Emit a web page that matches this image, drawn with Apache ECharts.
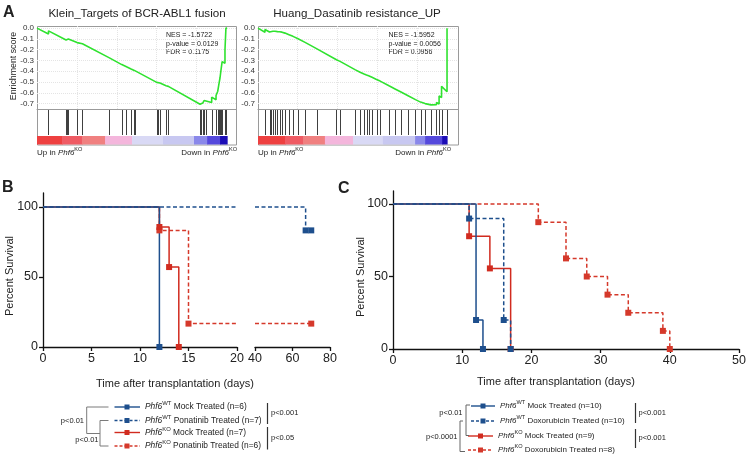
<!DOCTYPE html>
<html><head><meta charset="utf-8">
<script src="https://cdn.jsdelivr.net/npm/echarts@6/dist/echarts.min.js"></script>
<style>html,body{margin:0;padding:0;background:#fff}#c{width:750px;height:456px}</style>
</head><body><div id="c"></div>
<script>
// ===================== DATA =====================
// Panel A (GSEA) — rank position in % of ranked list, enrichment score
const gseaYTicks = [0, -0.1, -0.2, -0.3, -0.4, -0.5, -0.6, -0.7];
const gseaXGrid = [21, 42, 63, 84];

const kleinTitle = 'Klein_Targets of BCR-ABL1 fusion';
const kleinStats = ['NES = -1.5722', 'p-value = 0.0129', 'FDR = 0.1175'];
const kleinRank = [0,
  6.05, 6.05, 15.3, 15.3, 15.8, 15.8, 16.5, 16.5, 21.1, 21.1, 23.9, 23.9,
  38.1, 38.1, 44.6, 44.6, 46.8, 46.8, 49.5, 49.5, 51.2, 51.2, 51.7, 51.7,
  63.0, 63.0, 63.8, 63.8, 64.7, 64.7, 67.9, 67.9, 69.1, 69.1,
  85.8, 85.8, 86.5, 86.5, 87.2, 87.2, 87.9, 87.9, 88.9, 88.9, 91.9, 91.9,
  94.2, 94.2, 95.1, 95.1, 95.6, 95.6, 96.3, 96.3, 96.8, 96.8, 97.4, 97.4,
  98.9, 98.9, 99.4, 99.4, 100];
const kleinES = [0,
  -0.055, -0.025, -0.110, -0.100, -0.105, -0.095, -0.101, -0.092, -0.134, -0.122, -0.145, -0.130,
  -0.276, -0.271, -0.338, -0.333, -0.356, -0.351, -0.379, -0.374, -0.392, -0.387, -0.392, -0.387,
  -0.503, -0.497, -0.505, -0.499, -0.508, -0.502, -0.535, -0.528, -0.540, -0.534,
  -0.706, -0.695, -0.702, -0.688, -0.695, -0.680, -0.687, -0.672, -0.683, -0.660, -0.690, -0.640,
  -0.664, -0.625, -0.634, -0.585, -0.590, -0.530, -0.537, -0.460, -0.465, -0.390, -0.396, -0.310,
  -0.325, -0.200, -0.205, 0.0, 0.0];
const kleinHits = [6.05, 15.3, 15.8, 16.5, 21.1, 23.9, 38.1, 44.6, 46.8, 49.5, 51.2, 51.7,
  63.0, 63.8, 64.7, 67.9, 69.1, 85.8, 86.5, 87.2, 87.9, 88.9, 91.9, 94.2, 95.1, 95.6,
  96.3, 96.8, 97.4, 98.9, 99.4];
const kleinBarStops = [0, 13.2, 23.7, 35.8, 50, 66.3, 82.6, 89.5, 96.3, 100];
const kleinBarColors = ['#ee4040', '#ef5b64', '#f08080', '#f4b6dc', '#d9d9f5', '#c8c8f1', '#8a88ea', '#5549dc', '#1c0db6'];

const huangTitle = 'Huang_Dasatinib resistance_UP';
const huangStats = ['NES = -1.5952', 'p-value = 0.0056', 'FDR = 0.0956'];
const huangRank = [0,
  3.7, 3.7, 6.1, 6.1, 7.1, 7.1, 7.9, 7.9, 9.0, 9.0, 10.3, 10.3, 11.4, 11.4, 12.7, 12.7,
  14.3, 14.3, 16.4, 16.4, 18.5, 18.5, 21.2, 21.2, 24.9, 24.9, 31.2, 31.2, 41.5, 41.5,
  43.4, 43.4, 51.3, 51.3, 54.0, 54.0, 56.1, 56.1, 57.4, 57.4, 58.5, 58.5, 60.3, 60.3,
  62.7, 62.7, 64.6, 64.6, 69.3, 69.3, 72.5, 72.5, 75.9, 75.9, 79.4, 79.4, 83.3, 83.3,
  86.0, 86.0, 88.4, 88.4, 91.5, 91.5, 94.4, 94.4, 95.8, 95.8, 97.1, 97.1, 100, 100];
const huangES = [0,
  -0.038, -0.012, -0.036, -0.022, -0.032, -0.020, -0.028, -0.018, -0.029, -0.019, -0.032, -0.022, -0.033, -0.024, -0.037, -0.030,
  -0.046, -0.040, -0.061, -0.055, -0.076, -0.071, -0.099, -0.094, -0.132, -0.128, -0.192, -0.188, -0.293, -0.289,
  -0.308, -0.304, -0.385, -0.381, -0.409, -0.405, -0.426, -0.422, -0.435, -0.431, -0.442, -0.438, -0.456, -0.452,
  -0.476, -0.472, -0.491, -0.487, -0.535, -0.531, -0.564, -0.560, -0.595, -0.591, -0.627, -0.623, -0.663, -0.658,
  -0.686, -0.680, -0.700, -0.690, -0.712, -0.698, -0.711, -0.690, -0.704, -0.630, -0.643, -0.540, -0.590, 0.0];
const huangHits = [3.7, 6.1, 7.1, 7.9, 9.0, 10.3, 11.4, 12.7, 14.3, 16.4, 18.5, 21.2, 24.9, 31.2,
  41.5, 43.4, 51.3, 54.0, 56.1, 57.4, 58.5, 60.3, 62.7, 64.6, 69.3, 72.5, 75.9, 79.4, 83.3,
  86.0, 88.4, 91.5, 94.4, 95.8, 97.1, 100];
const huangBarStops = [0, 14.3, 23.8, 35.4, 50.3, 66.1, 83.1, 88.4, 97.4, 100];
const huangBarColors = ['#ee4040', '#ef5b64', '#f08080', '#f4b6dc', '#d9d9f5', '#c8c8f1', '#8a88ea', '#5549dc', '#1c0db6'];

// Panel B — Kaplan-Meier (time in days, percent survival)
const bWtMockT = [0, 12];             const bWtMockS = [100, 0];
const bWtPonaT = [0, 67, 70];         const bWtPonaS = [100, 83.3, 83.3];
const bKoMockT = [0, 12, 13, 14];     const bKoMockS = [100, 85.7, 57.1, 0];
const bKoPonaT = [0, 12, 15, 70];     const bKoPonaS = [100, 83.3, 16.7, 16.7];
const survTicks = [0, 50, 100];
const bSup = ['WT', 'WT', 'KO', 'KO'];
const bLabels = [' Mock Treated (n=6)', ' Ponatinib Treated (n=7)', ' Mock Treated (n=7)', ' Ponatinib Treated (n=6)'];
const bPLeft = ['p<0.01', 'p<0.01'];
const bPRight = ['p<0.001', 'p<0.05'];

// Panel C
const cWtMockT = [0, 12, 13];         const cWtMockS = [100, 20, 0];
const cWtDoxT = [0, 11, 16, 17];      const cWtDoxS = [100, 90, 20, 0];
const cKoMockT = [0, 11, 14, 17];     const cKoMockS = [100, 77.8, 55.6, 0];
const cKoDoxT = [0, 21, 25, 28, 31, 34, 39, 40];
const cKoDoxS = [100, 87.5, 62.5, 50, 37.5, 25, 12.5, 0];
const cSup = ['WT', 'WT', 'KO', 'KO'];
const cLabels = [' Mock Treated (n=10)', ' Doxorubicin Treated (n=10)', ' Mock Treated (n=9)', ' Doxorubicin Treated n=8)'];
const cPLeft = ['p<0.01', 'p<0.0001'];
const cPRight = ['p<0.001', 'p<0.001'];

const xTitle = 'Time after transplantation (days)';
const yTitle = 'Percent Survival';

// ===================== CHART =====================
const FF = '"Liberation Sans", Arial, sans-serif';
const BLUE = '#1e4f8d', RED = '#d12b1f', RED2 = '#d5392b';
const GREEN = '#2fe22f';
const chart = echarts.init(document.getElementById('c'), null, {renderer: 'canvas', width: 750, height: 456});

function zip(a, b) { return a.map((v, i) => [v, b[i]]); }

function hitRender(params, api) {
  const x = api.value(0);
  const a = api.coord([x, 0]), b = api.coord([x, 1]);
  const px = Math.round(a[0]) + 0.5;
  return {type: 'line', shape: {x1: px, y1: a[1], x2: px, y2: b[1]}, style: {stroke: '#404040', lineWidth: 1}};
}
function barRender(colors) {
  return function (params, api) {
    const a = api.coord([api.value(0), 0]), b = api.coord([api.value(1), 1]);
    return {type: 'rect', shape: {x: a[0], y: b[1], width: b[0] - a[0] + 0.6, height: a[1] - b[1]},
      style: {fill: colors[params.dataIndex]}};
  };
}
function stopsToSegs(stops) { return stops.slice(0, -1).map((s, i) => [s, stops[i + 1]]); }

function kmPart(T, S, lo, hi) {
  const survAt = t => { let s = S[0]; for (let i = 0; i < T.length; i++) if (T[i] <= t) s = S[i]; return s; };
  const out = [];
  if (T[T.length - 1] < lo) return out;
  if (lo > T[0]) out.push({value: [lo, survAt(lo)], symbol: 'none'});
  for (let i = 0; i < T.length; i++) {
    if (T[i] >= lo && T[i] <= hi) out.push(i === 0 ? {value: [T[i], S[i]], symbol: 'none'} : {value: [T[i], S[i]]});
  }
  if (T[T.length - 1] > hi) out.push({value: [hi, survAt(hi)], symbol: 'none'});
  return out;
}
function km(T, S, color, dashed, axis, lo, hi) {
  return {type: 'line', step: 'end', xAxisIndex: axis, yAxisIndex: axis, data: kmPart(T, S, lo, hi),
    symbol: 'rect', symbolSize: 6, showSymbol: true, showAllSymbol: true, clip: false,
    itemStyle: {color: color}, lineStyle: {color: color, width: 1.5, type: dashed ? [4, 2.5] : 'solid'},
    emphasis: {disabled: true}, animation: false};
}

// grids
const gseaDefs = [
  {left: 37, width: 199, xmax: 104.7},
  {left: 258, width: 200, xmax: 105.8}
];
const grids = [], xAxes = [], yAxes = [];
gseaDefs.forEach(g => {
  grids.push({left: g.left, top: 26, width: g.width, height: 83});
  grids.push({left: g.left, top: 110, width: g.width, height: 25});
  grids.push({left: g.left, top: 136, width: g.width, height: 8.5});
});
grids.push({left: 43, top: 193, width: 194, height: 154});
grids.push({left: 255, top: 193, width: 75, height: 154});
grids.push({left: 393, top: 191, width: 346, height: 158});

gseaDefs.forEach((g, k) => {
  const gi = k * 3;
  xAxes.push({gridIndex: gi, type: 'value', min: 0, max: g.xmax, axisLine: {show: true, onZero: false, lineStyle: {color: '#9a9a9a', width: 1}},
    axisTick: {show: false}, axisLabel: {show: false}, splitLine: {show: false}});
  yAxes.push({gridIndex: gi, type: 'value', min: -0.75, max: 0.02, axisLine: {show: false}, axisTick: {show: false}, splitLine: {show: false},
    axisLabel: {customValues: gseaYTicks, formatter: v => v.toFixed(1), fontSize: 8, margin: 3, color: '#333', fontFamily: FF}});
  for (let j = 1; j < 3; j++) {
    xAxes.push({gridIndex: gi + j, type: 'value', min: 0, max: g.xmax, show: false});
    yAxes.push({gridIndex: gi + j, type: 'value', min: 0, max: 1, show: false});
  }
});
const axLine = {show: true, onZero: false, lineStyle: {color: '#111', width: 1.3}};
const axTick = {show: true, length: 4, lineStyle: {color: '#111', width: 1.3}};
const axLab = {fontSize: 12.5, color: '#222', margin: 5, fontFamily: FF};
xAxes.push({gridIndex: 6, type: 'value', min: 0, max: 20, interval: 5, axisLine: axLine, axisTick: axTick, axisLabel: axLab, splitLine: {show: false}});
xAxes.push({gridIndex: 7, type: 'value', min: 40, max: 80, interval: 20, axisLine: axLine, axisTick: axTick, axisLabel: axLab, splitLine: {show: false}});
xAxes.push({gridIndex: 8, type: 'value', min: 0, max: 50, interval: 10, axisLine: axLine, axisTick: axTick, axisLabel: axLab, splitLine: {show: false}});
yAxes.push({gridIndex: 6, type: 'value', min: 0, max: 110, axisLine: axLine, axisTick: Object.assign({customValues: survTicks}, axTick),
  axisLabel: Object.assign({customValues: survTicks}, axLab), splitLine: {show: false}});
yAxes.push({gridIndex: 7, type: 'value', min: 0, max: 110, show: false});
yAxes.push({gridIndex: 8, type: 'value', min: 0, max: 109, axisLine: axLine, axisTick: Object.assign({customValues: survTicks}, axTick),
  axisLabel: Object.assign({customValues: survTicks}, axLab), splitLine: {show: false}});

// series
const series = [];
const gseaData = [
  {rank: kleinRank, es: kleinES, hits: kleinHits, stops: kleinBarStops, colors: kleinBarColors},
  {rank: huangRank, es: huangES, hits: huangHits, stops: huangBarStops, colors: huangBarColors}
];
gseaData.forEach((d, k) => {
  const gi = k * 3;
  series.push({type: 'line', xAxisIndex: gi, yAxisIndex: gi, data: zip(d.rank, d.es), symbol: 'none',
    lineStyle: {color: GREEN, width: 1.6}, animation: false, silent: true, z: 5,
    markLine: {silent: true, symbol: 'none', label: {show: false}, animation: false,
      lineStyle: {color: '#e4e4e4', type: 'dotted', width: 1},
      data: gseaYTicks.map(v => ({yAxis: v})).concat(gseaXGrid.map(v => ({xAxis: v})))}});
  series.push({type: 'custom', xAxisIndex: gi + 1, yAxisIndex: gi + 1, data: d.hits.map(h => [h, 0]),
    renderItem: hitRender, silent: true, animation: false});
  series.push({type: 'custom', xAxisIndex: gi + 2, yAxisIndex: gi + 2, data: stopsToSegs(d.stops),
    renderItem: barRender(d.colors), silent: true, animation: false});
});
// Panel B (red first, blue on top)
[[6, 0, 20], [7, 40, 80]].forEach(([ax, lo, hi]) => {
  series.push(km(bKoPonaT, bKoPonaS, RED2, true, ax, lo, hi));
  series.push(km(bKoMockT, bKoMockS, RED, false, ax, lo, hi));
  series.push(km(bWtPonaT, bWtPonaS, BLUE, true, ax, lo, hi));
  series.push(km(bWtMockT, bWtMockS, BLUE, false, ax, lo, hi));
});
// Panel C
series.push(km(cKoDoxT, cKoDoxS, RED2, true, 8, 0, 50));
series.push(km(cKoMockT, cKoMockS, RED, false, 8, 0, 50));
series.push(km(cWtDoxT, cWtDoxS, BLUE, true, 8, 0, 50));
series.push(km(cWtMockT, cWtMockS, BLUE, false, 8, 0, 50));

// ===================== GRAPHIC (titles, legends, annotations) =====================
const G = [];
function txt(x, y, text, font, align, opts) {
  const o = Object.assign({type: 'text', x: x, y: y, silent: true,
    style: {text: text, font: font, fill: '#222', textAlign: align || 'left', textVerticalAlign: 'middle'}}, opts || {});
  G.push(o);
}
function line(x1, y1, x2, y2, color, w, dash) {
  G.push({type: 'line', silent: true, shape: {x1, y1, x2, y2}, style: {stroke: color, lineWidth: w || 1, lineDash: dash || null}});
}
function poly(points, color, w) {
  G.push({type: 'polyline', silent: true, shape: {points}, style: {stroke: color, lineWidth: w || 1, fill: null}});
}
function richGene(x, y, sup, rest, size, align) {
  const supSize = Math.round(size * 0.7 * 10) / 10;
  G.push({type: 'text', x: x, y: y, silent: true, style: {
    text: '{n|' + (rest[0] || '') + '}{i|Phf6}{s|' + sup + '}{n|' + (rest[1] || '') + '}',
    fill: '#222', textAlign: align || 'left', textVerticalAlign: 'middle',
    rich: {
      n: {font: size + 'px ' + FF, fill: '#222'},
      i: {font: 'italic ' + size + 'px ' + FF, fill: '#222'},
      s: {font: supSize + 'px ' + FF, fill: '#222', padding: [0, 0, Math.round(size * 0.85), 0]}
    }}});
}

// Panel letters
txt(3, 12.5, 'A', 'bold 16px ' + FF);
txt(2, 187.5, 'B', 'bold 16px ' + FF);
txt(338, 188.5, 'C', 'bold 16px ' + FF);

// Panel A decorations
txt(137, 14, kleinTitle, '11.6px ' + FF, 'center');
txt(357, 14, huangTitle, '11.6px ' + FF, 'center');
txt(13.5, 66, 'Enrichment score', '8.8px ' + FF, 'center', {rotation: Math.PI / 2});
G.push({type: 'rect', silent: true, shape: {x: 37.5, y: 26.5, width: 199, height: 118.5}, style: {fill: null, stroke: '#9a9a9a', lineWidth: 1}});
G.push({type: 'rect', silent: true, shape: {x: 258.5, y: 26.5, width: 200, height: 118.5}, style: {fill: null, stroke: '#9a9a9a', lineWidth: 1}});
kleinStats.forEach((s, i) => txt(166, 35 + i * 8.6, s, '7px ' + FF));
huangStats.forEach((s, i) => txt(388.5, 35 + i * 8.6, s, '7px ' + FF));
richGene(37, 153, 'KO', ['Up in ', ''], 8);
richGene(237, 153, 'KO', ['Down in ', ''], 8, 'right');
richGene(258, 153, 'KO', ['Up in ', ''], 8);
richGene(451, 153, 'KO', ['Down in ', ''], 8, 'right');

// Axis titles B & C
txt(175, 384, xTitle, '11px ' + FF, 'center');
txt(556, 382, xTitle, '11px ' + FF, 'center');
txt(10, 276, yTitle, '11px ' + FF, 'center', {rotation: Math.PI / 2});
txt(361, 277, yTitle, '11px ' + FF, 'center', {rotation: Math.PI / 2});

// Legend B
const bRows = [407, 420.5, 432.5, 446];
const bStyle = [[BLUE, false], [BLUE, true], [RED, false], [RED2, true]];
bRows.forEach((y, i) => {
  const [c, d] = bStyle[i];
  line(114.5, y, 140, y, c, 1.4, d ? [3, 2] : null);
  G.push({type: 'rect', silent: true, shape: {x: 124.5, y: y - 2.5, width: 5, height: 5}, style: {fill: c}});
  richGene(145, y, bSup[i], ['', bLabels[i]], 8.4);
});
poly([[108.5, 407], [86.7, 407], [86.7, 433.5], [100, 433.5]], '#7a7a7a', 1);
poly([[108.5, 420.5], [100, 420.5], [100, 446], [108.5, 446]], '#7a7a7a', 1);
txt(84, 420.5, bPLeft[0], '7.5px ' + FF, 'right');
txt(98.5, 439.5, bPLeft[1], '7.5px ' + FF, 'right');
line(267.5, 403, 267.5, 424, '#333', 1.2);
line(267.5, 427, 267.5, 449.5, '#333', 1.2);
txt(271, 413, bPRight[0], '7.5px ' + FF);
txt(271, 437.5, bPRight[1], '7.5px ' + FF);

// Legend C
const cRows = [406, 421, 436, 450];
const cIconX = [[471, 495], [471, 495], [468, 493], [468, 493]];
const cTextX = [500, 500, 498, 498];
cRows.forEach((y, i) => {
  const [c, d] = bStyle[i];
  const [x0, x1] = cIconX[i];
  line(x0, y, x1, y, c, 1.4, d ? [3, 2] : null);
  G.push({type: 'rect', silent: true, shape: {x: (x0 + x1) / 2 - 2.5, y: y - 2.5, width: 5, height: 5}, style: {fill: c}});
  richGene(cTextX[i], y, cSup[i], ['', cLabels[i]], 8);
});
poly([[470, 405], [466, 405], [466, 435.5], [469, 435.5]], '#666', 1);
poly([[463, 421], [460, 421], [460, 451.5], [465, 451.5]], '#666', 1);
txt(462.5, 413, cPLeft[0], '7.5px ' + FF, 'right');
txt(457.5, 436.5, cPLeft[1], '7.5px ' + FF, 'right');
line(635.5, 403, 635.5, 423, '#333', 1.2);
line(635.5, 429, 635.5, 448, '#333', 1.2);
txt(638.5, 412.5, cPRight[0], '7.5px ' + FF);
txt(638.5, 438, cPRight[1], '7.5px ' + FF);

chart.setOption({
  animation: false,
  backgroundColor: '#fff',
  textStyle: {fontFamily: FF},
  grid: grids,
  xAxis: xAxes,
  yAxis: yAxes,
  series: series,
  graphic: {elements: G}
});
</script>
</body></html>
